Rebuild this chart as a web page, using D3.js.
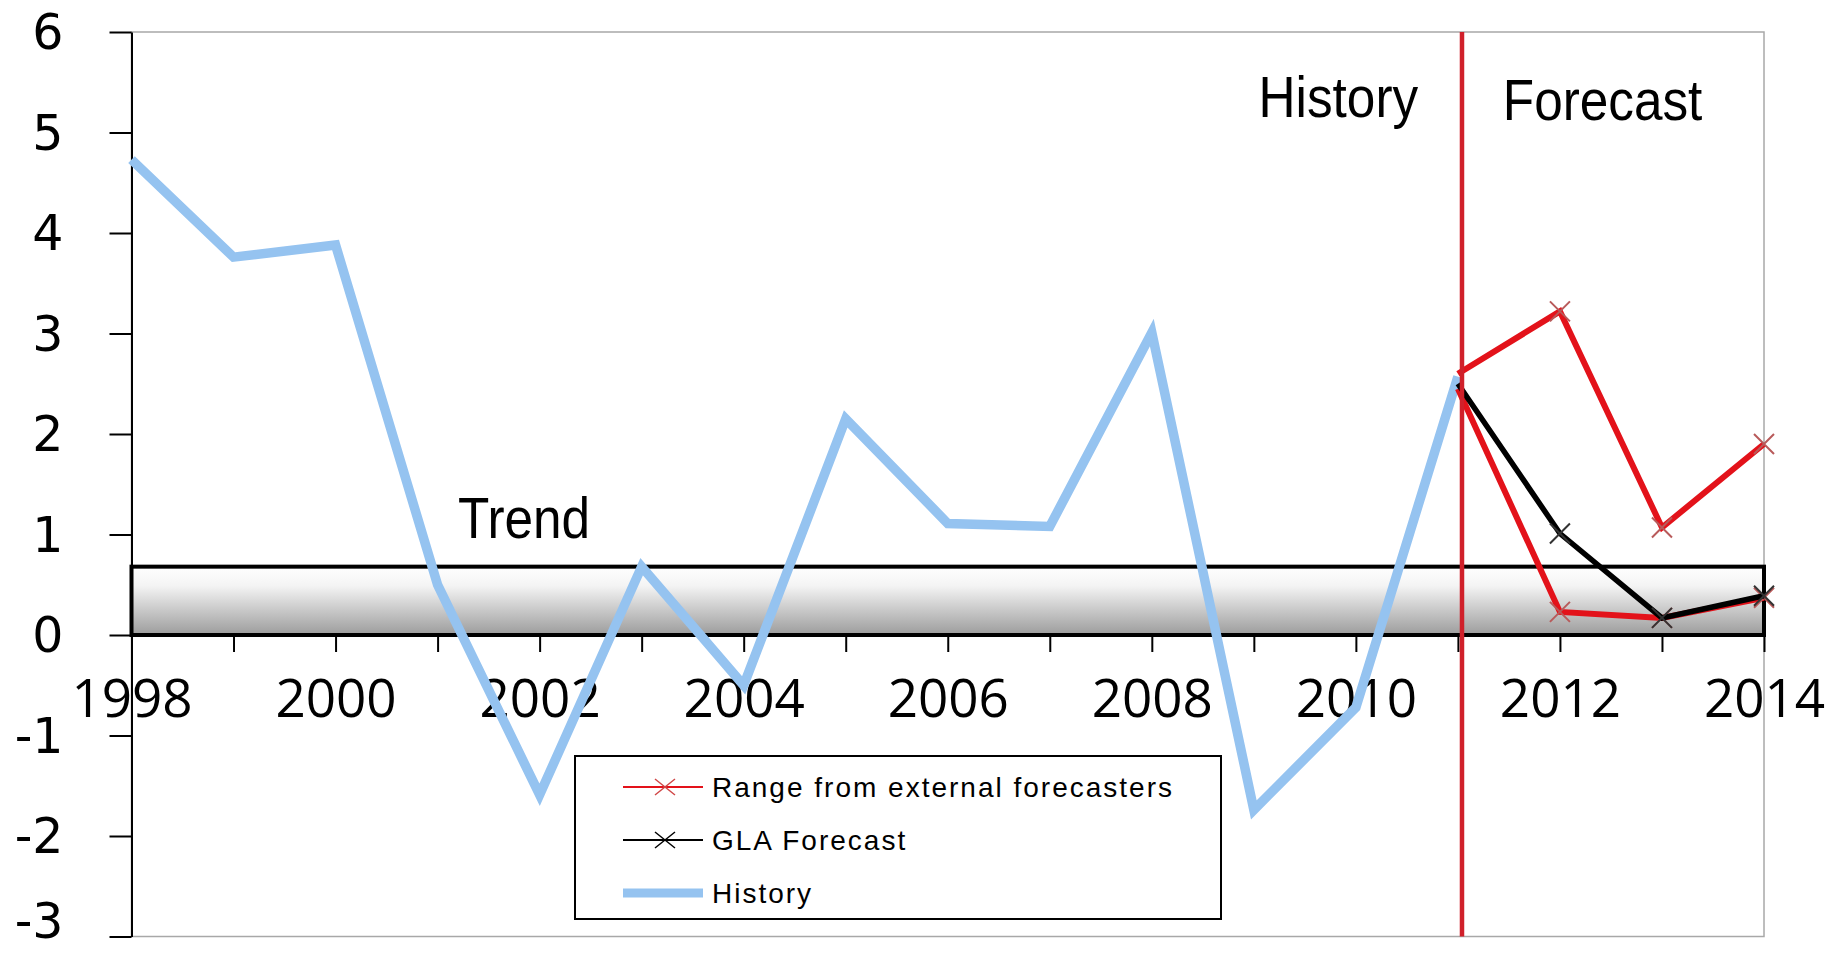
<!DOCTYPE html>
<html>
<head>
<meta charset="utf-8">
<script src="https://cdn.jsdelivr.net/npm/d3@7/dist/d3.min.js"></script>
<style>
  html, body { margin: 0; padding: 0; background: #ffffff; }
  svg { display: block; }
</style>
</head>
<body>
<svg id="chart" width="1841" height="955"></svg>
<script>
// ---- Data ----
const historyYears  = [1998, 1999, 2000, 2001, 2002, 2003, 2004, 2005, 2006, 2007, 2008, 2009, 2010, 2011];
const historyValues = [4.73, 3.76, 3.88, 0.50, -1.59, 0.68, -0.50, 2.15, 1.11, 1.08, 3.01, -1.74, -0.72, 2.57];

const forecastYears  = [2011, 2012, 2013, 2014];
const externalHigh   = [2.60, 3.22, 1.07, 1.90];
const externalLow    = [2.45, 0.23, 0.17, 0.37];
const glaForecast    = [2.50, 1.01, 0.17, 0.39];

const trendBand = [0, 0.68];          // long-run trend range
const dividerYear = 2011.04;          // History | Forecast split

const yTicks = [-3, -2, -1, 0, 1, 2, 3, 4, 5, 6];
const xTickYears = [1998, 1999, 2000, 2001, 2002, 2003, 2004, 2005, 2006, 2007, 2008, 2009, 2010, 2011, 2012, 2013, 2014];
const xLabelYears = [1998, 2000, 2002, 2004, 2006, 2008, 2010, 2012, 2014];

const legendLabels = ["Range from external forecasters", "GLA Forecast", "History"];

// ---- Layout ----
const svg = d3.select("#chart");
const plot = { left: 131.5, right: 1764, top: 32, bottom: 936.5 };

const x = d3.scaleLinear().domain([1998, 2014]).range([plot.left, plot.right]);
const y = d3.scaleLinear().domain([-3, 6]).range([plot.bottom, plot.top]);

const colors = { history: "#95c3f0", external: "#e3121a", gla: "#000000", divider: "#d0202a" };

// gradient for the trend band
const defs = svg.append("defs");
const grad = defs.append("linearGradient").attr("id", "trendGrad")
  .attr("x1", 0).attr("y1", 0).attr("x2", 0).attr("y2", 1);
grad.append("stop").attr("offset", "0%").attr("stop-color", "#ffffff");
grad.append("stop").attr("offset", "28%").attr("stop-color", "#f4f4f4");
grad.append("stop").attr("offset", "100%").attr("stop-color", "#9c9c9c");

// plot frame
svg.append("rect")
  .attr("x", plot.left).attr("y", plot.top)
  .attr("width", plot.right - plot.left).attr("height", plot.bottom - plot.top)
  .attr("fill", "none").attr("stroke", "#a8a8a8").attr("stroke-width", 1.5);

// trend band
svg.append("rect")
  .attr("x", x(1998)).attr("y", y(trendBand[1]))
  .attr("width", x(2014) - x(1998)).attr("height", y(trendBand[0]) - y(trendBand[1]))
  .attr("fill", "url(#trendGrad)").attr("stroke", "#000").attr("stroke-width", 4);

// x axis: ticks hang from the zero line
const xAxis = d3.axisBottom(x)
  .tickValues(xTickYears)
  .tickSize(17)
  .tickPadding(27)
  .tickFormat(d => xLabelYears.includes(d) ? String(d) : "");
const gx = svg.append("g").attr("transform", `translate(0,${y(0)})`).call(xAxis);
gx.select(".domain").remove();
gx.selectAll(".tick line").attr("stroke", "#000").attr("stroke-width", 2);
gx.selectAll(".tick text")
  .attr("fill", "#000")
  .style("font-family", "'Open Sans', 'Liberation Sans', sans-serif")
  .style("font-size", "53px");

// y axis
const yAxis = d3.axisLeft(y)
  .tickValues(yTicks)
  .tickSize(22)
  .tickSizeOuter(0)
  .tickPadding(46)
  .tickFormat(d => String(d));
const gy = svg.append("g").attr("transform", `translate(${plot.left},0)`).call(yAxis);
gy.select(".domain").attr("stroke", "#000").attr("stroke-width", 2);
gy.selectAll(".tick line").attr("stroke", "#000").attr("stroke-width", 2);
gy.selectAll(".tick text")
  .attr("fill", "#000")
  .attr("dy", d => d === yTicks[0] ? "0.03em" : "0.34em")   // keep the lowest label inside the canvas
  .style("font-family", "'DejaVu Sans', sans-serif")
  .style("font-size", "49px");

// lines
const line = d3.line().x(d => x(d[0])).y(d => y(d[1]));
const zip = (xs, ys) => xs.map((v, i) => [v, ys[i]]);

svg.append("path")
  .datum(zip(historyYears, historyValues))
  .attr("d", line).attr("fill", "none")
  .attr("stroke", colors.history).attr("stroke-width", 9.5)
  .attr("stroke-linejoin", "miter");

const marker = "M-10,-10L10,10M-10,10L10,-10";

function drawSeries(values, color, width, markColor) {
  const pts = zip(forecastYears, values);
  svg.append("path").datum(pts).attr("d", line).attr("fill", "none")
    .attr("stroke", color).attr("stroke-width", width).attr("stroke-linejoin", "miter");
  svg.append("g").selectAll("path").data(pts.slice(1)).join("path")
    .attr("d", marker)
    .attr("transform", d => `translate(${x(d[0])},${y(d[1])})`)
    .attr("fill", "none").attr("stroke", markColor).attr("stroke-width", 2);
}
drawSeries(externalHigh, colors.external, 6, "#b85a5a");
drawSeries(externalLow, colors.external, 6, "#b85a5a");
drawSeries(glaForecast, colors.gla, 5.5, "#333333");

// History / Forecast divider
svg.append("line")
  .attr("x1", x(dividerYear)).attr("x2", x(dividerYear))
  .attr("y1", y(6)).attr("y2", y(-3))
  .attr("stroke", colors.divider).attr("stroke-width", 4.5);

// annotations
function label(text, year, value, anchor) {
  svg.append("text")
    .attr("transform", `translate(${x(year)},${y(value)}) scale(0.9,1)`)
    .attr("text-anchor", anchor)
    .style("font-family", "'Liberation Sans', Arial, sans-serif")
    .style("font-size", "57px")
    .attr("fill", "#000")
    .text(text);
}
label("History", 2010.61, 5.15, "end");
label("Forecast", 2011.44, 5.12, "start");
label("Trend", 2001.2, 0.97, "start");

// legend
const lg = svg.append("g");
lg.append("rect")
  .attr("x", 575).attr("y", 756).attr("width", 646).attr("height", 163)
  .attr("fill", "#fff").attr("stroke", "#000").attr("stroke-width", 2);

const legendRows = [
  { label: legendLabels[0], color: colors.external, width: 2, mark: true, markColor: "#d04848" },
  { label: legendLabels[1], color: "#000", width: 2, mark: true, markColor: "#000" },
  { label: legendLabels[2], color: colors.history, width: 9, mark: false }
];
legendRows.forEach((r, i) => {
  const cy = 787 + i * 53;
  lg.append("line").attr("x1", 623).attr("x2", 703).attr("y1", cy).attr("y2", cy)
    .attr("stroke", r.color).attr("stroke-width", r.width);
  if (r.mark) {
    lg.append("path").attr("d", "M-10,-8L10,8M-10,8L10,-8")
      .attr("transform", `translate(665,${cy})`)
      .attr("fill", "none").attr("stroke", r.markColor).attr("stroke-width", 1.5);
  }
  lg.append("text")
    .attr("x", 712).attr("y", cy).attr("dy", "0.36em")
    .style("font-family", "'Liberation Sans', Arial, sans-serif")
    .style("font-size", "28px")
    .style("letter-spacing", "2px")
    .attr("fill", "#000")
    .text(r.label);
});
</script>
</body>
</html>
